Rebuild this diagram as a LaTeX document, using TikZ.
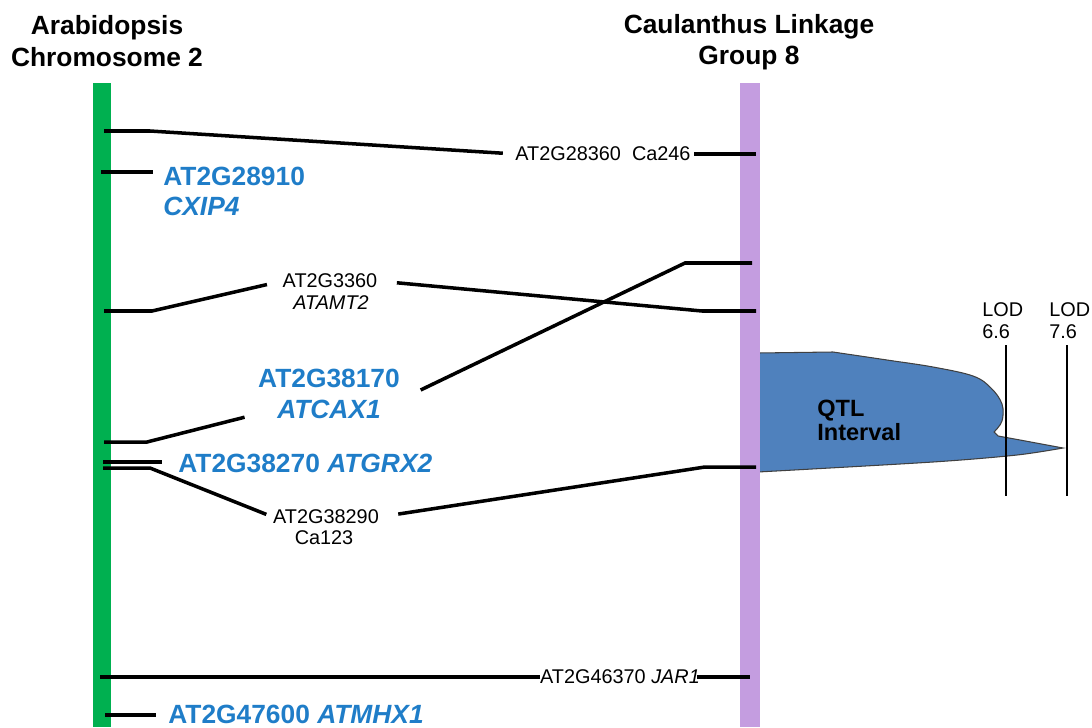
\documentclass[tikz,border=0pt]{standalone}
\usepackage{fontspec}
\setmainfont{Liberation Sans}
\definecolor{chrgreen}{RGB}{0,176,80}
\definecolor{chrpurple}{RGB}{196,157,224}
\definecolor{geneblue}{RGB}{31,125,200}
\definecolor{qtlblue}{RGB}{79,129,189}
\begin{document}
\begin{tikzpicture}[x=0.02cm,y=-0.02cm,
  joinline/.style={line width=2pt},
  heading/.style={font=\fontsize{15}{18}\selectfont\bfseries,align=center},
  gene/.style={font=\fontsize{15}{17}\selectfont\bfseries,text=geneblue,inner sep=0pt,anchor=west},
  mrk/.style={font=\fontsize{11.3}{12.5}\selectfont,inner sep=0pt},
  lod/.style={font=\fontsize{11.3}{12.5}\selectfont,inner sep=0pt,anchor=west,align=left}]
  \useasboundingbox (0,0) rectangle (1092,727);

  \node[heading] (arab) at (107,41) {Arabidopsis\\Chromosome 2};
  \node[heading] (caul) at (749,42) {Caulanthus Linkage\\Group 8};

  \filldraw[fill=qtlblue,draw=black!75,line width=0.6pt] (758,353)
    -- plot[smooth,tension=0.6] coordinates {(833,352) (887,360) (933,367) (973,376) (991,388) (1002,404) (1002,421) (994,432)}
    -- plot[smooth,tension=0.5] coordinates {(998,436) (1020,440) (1063,448)}
    -- plot[smooth,tension=0.5] coordinates {(1063,448) (1017,455) (933,462) (758,472)} -- cycle;
  \node[font=\fontsize{13.4}{13.6}\selectfont\bfseries,align=left,anchor=west,inner sep=0pt] (qtl) at (817,420) {QTL\\Interval};

  \draw[line width=0.7pt] (1006,345)--(1006,496);
  \draw[line width=0.7pt] (1067,345)--(1067,496);
  \node[lod] (lod1) at (982,321) {LOD\\6.6};
  \node[lod] (lod2) at (1049,321) {LOD\\7.6};

  \fill[chrgreen] (93,83) rectangle (111,727);
  \fill[chrpurple] (740,83) rectangle (760,727);

  \coordinate (a1) at (104,131);
  \coordinate (a2) at (101,172);
  \coordinate (a3) at (104,311);
  \coordinate (a4) at (104,442);
  \coordinate (a5) at (103,462);
  \coordinate (a6) at (103,468);
  \coordinate (a7) at (100,677);
  \coordinate (a8) at (105,715);

  \coordinate (c1) at (756,154);
  \coordinate (c3) at (756,311);
  \coordinate (c4) at (752,263);
  \coordinate (c6) at (756,467);
  \coordinate (c7) at (750,677);

  \node[gene] (g2) at (163,176) {AT2G28910};
  \node[gene] (g2b) at (163,206) {\textit{CXIP4}};
  \node[gene,anchor=center] (g4) at (329,378) {AT2G38170};
  \node[gene,anchor=center] (g4b) at (329,409) {\textit{ATCAX1}};
  \node[gene] (g5) at (178,463) {AT2G38270 \textit{ATGRX2}};
  \node[gene] (g8) at (168,714) {AT2G47600 \textit{ATMHX1}};

  \node[mrk] (m1) at (603,154) {AT2G28360\ \ Ca246};
  \node[mrk] (m3) at (330,281) {AT2G3360};
  \node[mrk] (m3b) at (331,303) {\textit{ATAMT2}};
  \node[mrk] (m6) at (326,517) {AT2G38290};
  \node[mrk] (m6b) at (324,538) {Ca123};
  \node[mrk] (m7) at (620,677) {AT2G46370 \textit{JAR1}};

  \draw[joinline,shorten >=7pt] (a1) -- ++(46,0) -- (m1.west);
  \draw[joinline,shorten <=2pt] (m1.east) -- (c1);
  \draw[joinline] (a2) -- ++(52,0);
  \draw[joinline,shorten >=9pt] (a3) -- ++(48,0) -- (m3.west);
  \draw[joinline,shorten >=11pt] (c3) -- ++(-54,0) -- (m3.east);
  \draw[joinline,shorten >=19pt] (a4) -- ++(43,0) -- (g4b.west);
  \draw[joinline,shorten >=25pt] (c4) -- ++(-67,0) -- (g4b.east);
  \draw[joinline] (a5) -- ++(59,0);
  \draw[joinline,shorten >=4pt] (a6) -- ++(47,0) -- (m6.west);
  \draw[joinline,shorten >=11pt] (c6) -- ++(-51,0) -- (m6.east);
  \draw[joinline] (a7) -- (m7.west);
  \draw[joinline,shorten <=-2pt] (m7.east) -- (c7);
  \draw[joinline] (a8) -- ++(51,0);
\end{tikzpicture}
\end{document}
